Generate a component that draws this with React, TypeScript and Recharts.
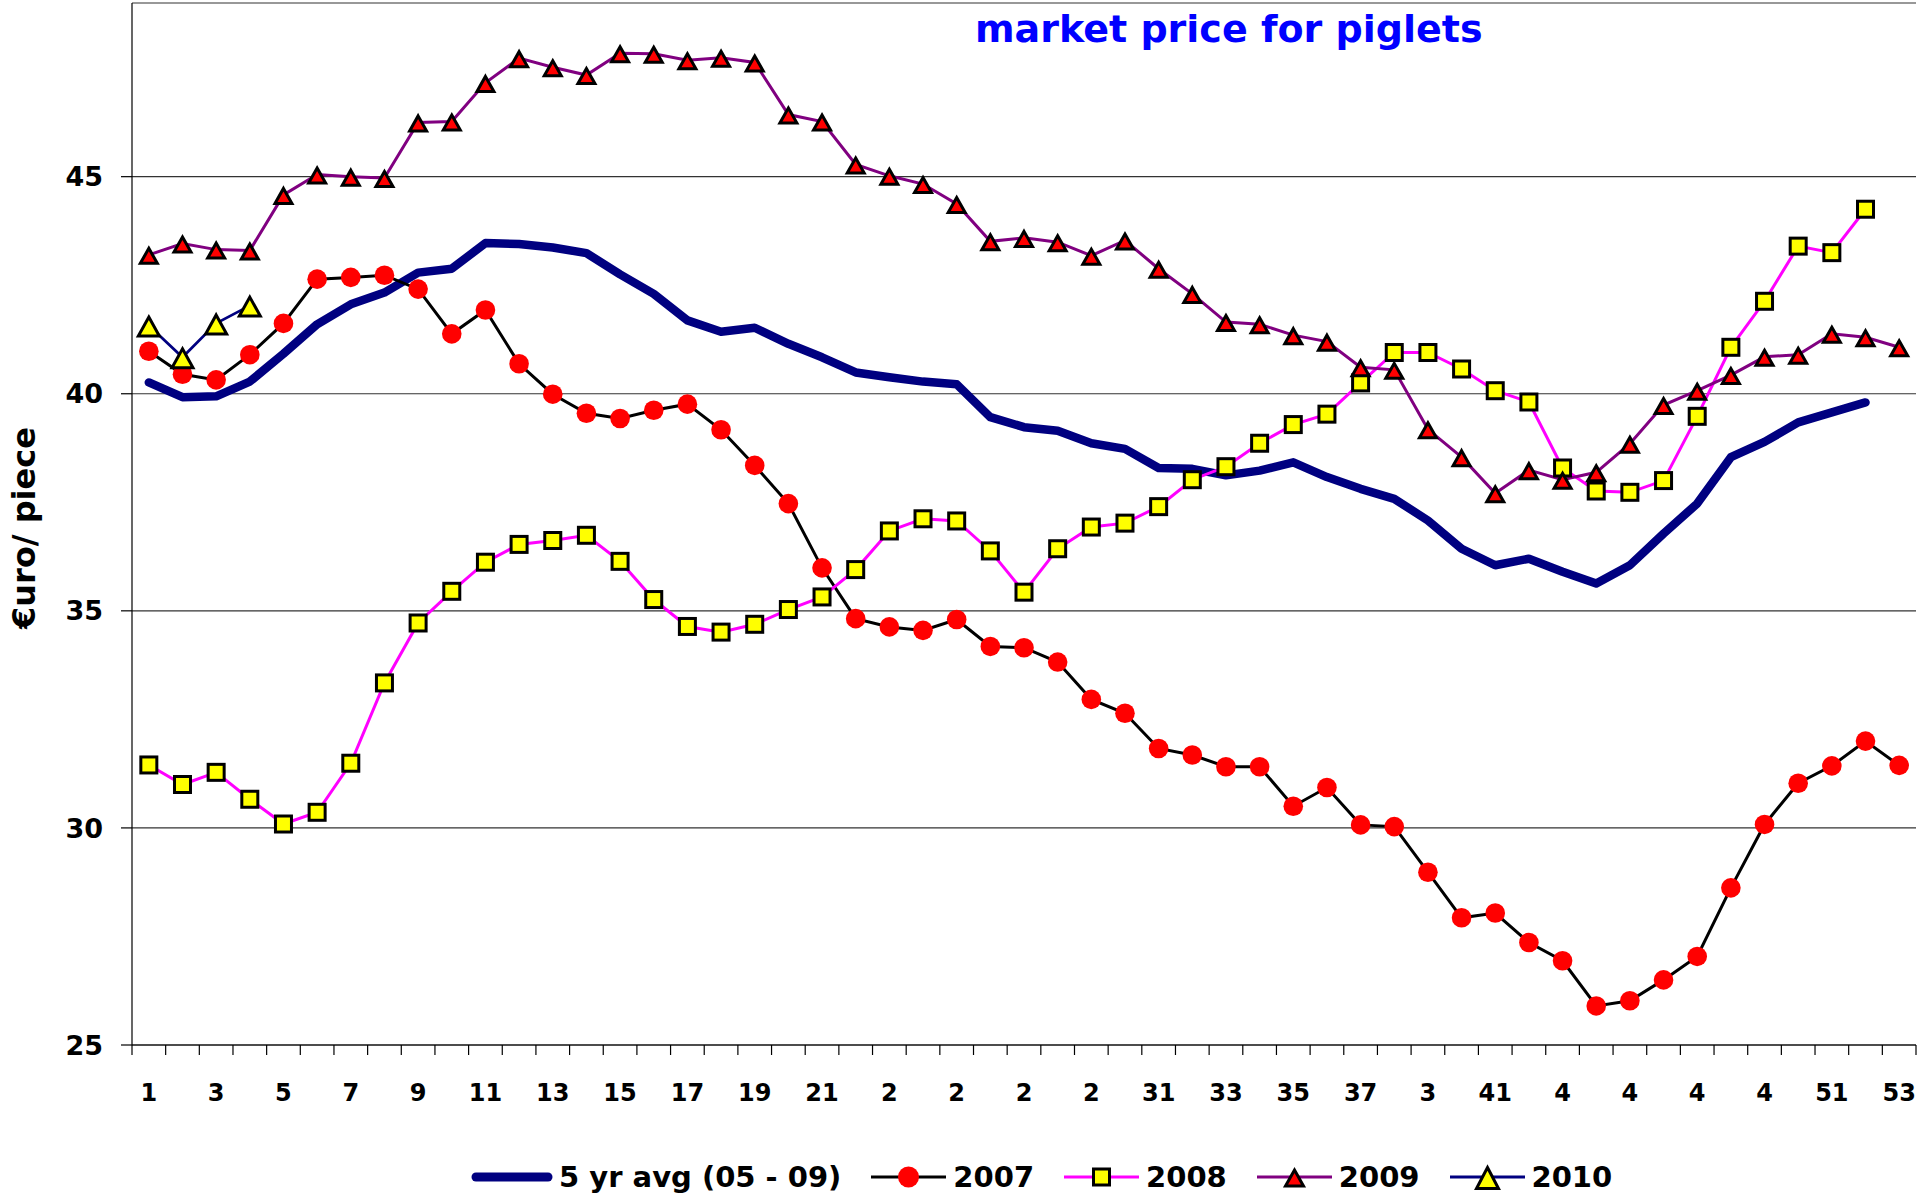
import { ComposedChart, Line, XAxis, YAxis, CartesianGrid, Legend } from 'recharts';

// calendar weeks on the category axis
const weeks = [
  1, 2, 3, 4, 5, 6, 7, 8, 9, 10, 11, 12, 13, 14, 15, 16, 17, 18, 19, 20, 21, 22, 23, 24, 25, 26,
  27, 28, 29, 30, 31, 32, 33, 34, 35, 36, 37, 38, 39, 40, 41, 42, 43, 44, 45, 46, 47, 48, 49, 50,
  51, 52, 53,
];

// text printed under every other week (some labels are cut short)
const weekLabels = [
  '1', '', '3', '', '5', '', '7', '', '9', '', '11', '', '13', '', '15', '', '17', '', '19', '',
  '21', '', '2', '', '2', '', '2', '', '2', '', '31', '', '33', '', '35', '', '37', '', '3', '',
  '41', '', '4', '', '4', '', '4', '', '4', '', '51', '', '53',
];

const avg0509 = [
  40.26, 39.92, 39.94, 40.28, 40.92, 41.6, 42.06, 42.33, 42.79, 42.88, 43.47, 43.45, 43.37, 43.24,
  42.75, 42.3, 41.69, 41.43, 41.52, 41.15, 40.84, 40.49, 40.38, 40.28, 40.22, 39.46, 39.23, 39.15,
  38.86, 38.73, 38.29, 38.27, 38.12, 38.23, 38.42, 38.08, 37.81, 37.58, 37.08, 36.43, 36.05, 36.2,
  35.9, 35.63, 36.05, 36.78, 37.47, 38.54, 38.89, 39.34, 39.57, 39.8,
];

const price2007 = [
  40.98, 40.45, 40.32, 40.9, 41.62, 42.64, 42.68, 42.73, 42.41, 41.38, 41.93, 40.69, 39.99, 39.55,
  39.43, 39.62, 39.76, 39.17, 38.35, 37.47, 35.99, 34.82, 34.63, 34.55, 34.8, 34.18, 34.15, 33.82,
  32.96, 32.64, 31.83, 31.68, 31.41, 31.41, 30.5, 30.93, 30.07, 30.03, 28.98, 27.93, 28.04, 27.36,
  26.94, 25.9, 26.02, 26.5, 27.04, 28.62, 30.08, 31.03, 31.43, 32.0, 31.44,
];

const price2008 = [
  31.45, 31.0, 31.28, 30.66, 30.09, 30.36, 31.49, 33.34, 34.72, 35.45, 36.12, 36.53, 36.62, 36.74,
  36.14, 35.26, 34.64, 34.51, 34.69, 35.03, 35.32, 35.95, 36.84, 37.12, 37.07, 36.38, 35.43, 36.43,
  36.93, 37.02, 37.4, 38.02, 38.32, 38.86, 39.29, 39.53, 40.25, 40.95, 40.95, 40.57, 40.07, 39.81,
  38.29, 37.76, 37.73, 38.0, 39.48, 41.07, 42.13, 43.4, 43.25, 44.25,
];

const price2009 = [
  43.2, 43.46, 43.32, 43.3, 44.58, 45.05, 45.0, 44.97, 46.25, 46.27, 47.16, 47.73, 47.52, 47.34,
  47.84, 47.83, 47.68, 47.74, 47.63, 46.43, 46.27, 45.28, 45.02, 44.83, 44.37, 43.51, 43.59, 43.49,
  43.18, 43.53, 42.88, 42.3, 41.65, 41.6, 41.35, 41.2, 40.61, 40.55, 39.18, 38.54, 37.71, 38.24,
  38.02, 38.19, 38.85, 39.74, 40.07, 40.43, 40.85, 40.9, 41.38, 41.3, 41.07,
];

const price2010 = [41.57, 40.84, 41.62, 42.03];

const yTicks = [25, 30, 35, 40, 45];

const FONT = '"DejaVu Sans", Verdana, sans-serif';
const CHART_W = 1919;
const CHART_H = 1195;
const PLOT_LEFT = 132;
const PLOT_RIGHT = 1916;
const BAND = (PLOT_RIGHT - PLOT_LEFT) / weeks.length;

const data = weeks.map((week, i) => ({
  week,
  avg: avg0509[i] ?? null,
  y2007: price2007[i] ?? null,
  y2008: price2008[i] ?? null,
  y2009: price2009[i] ?? null,
  y2010: price2010[i] ?? null,
}));

function triPoints(cx: number, cy: number, w: number, h: number) {
  return `${cx},${cy - h / 2} ${cx + w / 2},${cy + h / 2} ${cx - w / 2},${cy + h / 2}`;
}

const redDot = (p: any) => {
  if (p.cx == null || p.cy == null) return <g key={`a${p.index}`} />;
  return <circle key={`a${p.index}`} cx={p.cx} cy={p.cy} r={9.8} fill="#ff0000" />;
};

const yellowSquare = (p: any) => {
  if (p.cx == null || p.cy == null) return <g key={`b${p.index}`} />;
  return (
    <rect key={`b${p.index}`} x={p.cx - 8} y={p.cy - 8} width={16} height={16}
      fill="#ffff00" stroke="#000" strokeWidth={3} />
  );
};

const redTriangle = (p: any) => {
  if (p.cx == null || p.cy == null) return <g key={`c${p.index}`} />;
  return (
    <polygon key={`c${p.index}`} points={triPoints(p.cx, p.cy + 1, 17, 15)}
      fill="#ff0000" stroke="#000" strokeWidth={3} strokeLinejoin="miter" />
  );
};

const yellowTriangle = (p: any) => {
  if (p.cx == null || p.cy == null) return <g key={`d${p.index}`} />;
  return (
    <polygon key={`d${p.index}`} points={triPoints(p.cx, p.cy + 1, 21, 19)}
      fill="#ffff00" stroke="#000" strokeWidth={3} strokeLinejoin="miter" />
  );
};

function WeekTick(props: any) {
  const { x, y, payload } = props;
  const i = weeks.indexOf(payload.value);
  const left = x - BAND / 2;
  return (
    <g>
      <line x1={left} y1={y} x2={left} y2={y + 10} stroke="#000" strokeWidth={1.2} />
      {i === weeks.length - 1 && (
        <line x1={x + BAND / 2} y1={y} x2={x + BAND / 2} y2={y + 10} stroke="#000" strokeWidth={1.2} />
      )}
      {weekLabels[i] && (
        <text x={x} y={y + 56} textAnchor="middle" fill="#000" fontFamily={FONT}
          fontWeight="bold" fontSize={24}>
          {weekLabels[i]}
        </text>
      )}
    </g>
  );
}

const legendItems = [
  { name: '5 yr avg (05 - 09)', color: '#000080', width: 9, marker: 'none', len: 80 },
  { name: '2007', color: '#000000', width: 3, marker: 'circle', len: 75 },
  { name: '2008', color: '#ff00ff', width: 3, marker: 'square', len: 75 },
  { name: '2009', color: '#800080', width: 3, marker: 'tri', len: 75 },
  { name: '2010', color: '#000080', width: 3, marker: 'tri2010', len: 75 },
];

function LegendRow() {
  return (
    <div style={{ display: 'flex', alignItems: 'center', gap: 30, fontFamily: FONT, fontWeight: 'bold', fontSize: 29, color: '#000', whiteSpace: 'nowrap' }}>
      {legendItems.map((it) => {
        const mid = it.len / 2;
        return (
          <div key={it.name} style={{ display: 'flex', alignItems: 'center' }}>
            <svg width={it.len} height={30} style={{ overflow: 'visible' }}>
              <line x1={it.width > 4 ? 4 : 0} y1={15} x2={it.width > 4 ? it.len - 4 : it.len} y2={15}
                stroke={it.color} strokeWidth={it.width} strokeLinecap={it.width > 4 ? 'round' : 'butt'} />
              {it.marker === 'circle' && <circle cx={mid} cy={15} r={10.5} fill="#ff0000" />}
              {it.marker === 'square' && (
                <rect x={mid - 8} y={7} width={16} height={16} fill="#ffff00" stroke="#000" strokeWidth={3} />
              )}
              {it.marker === 'tri' && (
                <polygon points={triPoints(mid, 16, 18, 16)} fill="#ff0000" stroke="#000" strokeWidth={3} />
              )}
              {it.marker === 'tri2010' && (
                <polygon points={triPoints(mid, 16, 22, 21)} fill="#ffff00" stroke="#000" strokeWidth={3} />
              )}
            </svg>
            <span style={{ marginLeft: 7, lineHeight: '30px' }}>{it.name}</span>
          </div>
        );
      })}
    </div>
  );
}

export default function App() {
  return (
    <div style={{ position: 'absolute', left: 0, top: 0, width: CHART_W, height: CHART_H, background: '#fff' }}>
      <div style={{ position: 'absolute', left: 975, top: 10, fontFamily: FONT, fontWeight: 'bold', fontSize: 38, lineHeight: '38px', color: '#0000ff', whiteSpace: 'nowrap' }}>
        market price for piglets
      </div>
      <ComposedChart width={CHART_W} height={CHART_H} data={data}
        margin={{ top: 3, right: CHART_W - PLOT_RIGHT, bottom: 50, left: 0 }}>
        <CartesianGrid horizontal vertical={false} stroke="#333" strokeWidth={1.2} />
        <XAxis dataKey="week" scale="band" interval={0} height={100} tickSize={0} tickMargin={0}
          tickLine={false} axisLine={{ stroke: '#000', strokeWidth: 1.2 }} tick={<WeekTick />} />
        <YAxis type="number" domain={[25, 49]} ticks={yTicks} width={PLOT_LEFT} tickSize={11} tickMargin={18}
          axisLine={{ stroke: '#000', strokeWidth: 1.2 }} tickLine={{ stroke: '#000', strokeWidth: 1.2 }}
          tick={{ fill: '#000', fontSize: 27, fontWeight: 'bold', fontFamily: FONT }}
          label={(p: any) => (
            <text x={24} y={528} transform="rotate(-90 24 528)" textAnchor="middle" dominantBaseline="central"
              fontFamily={FONT} fontWeight="bold" fontSize={32} fill="#000">
              €uro/ piece
            </text>
          )} />
        <Legend layout="vertical" align="center" verticalAlign="middle"
          wrapperStyle={{ left: 472, top: 1162, width: 1300, height: 30 }} content={() => <LegendRow />} />
        <Line dataKey="avg" name="5 yr avg (05 - 09)" stroke="#000080" strokeWidth={8.5} strokeLinecap="round"
          strokeLinejoin="round" dot={false} activeDot={false} isAnimationActive={false} />
        <Line dataKey="y2007" name="2007" stroke="#000" strokeWidth={3} dot={redDot} activeDot={false}
          isAnimationActive={false} />
        <Line dataKey="y2008" name="2008" stroke="#ff00ff" strokeWidth={3} dot={yellowSquare} activeDot={false}
          isAnimationActive={false} />
        <Line dataKey="y2009" name="2009" stroke="#800080" strokeWidth={3} dot={redTriangle} activeDot={false}
          isAnimationActive={false} />
        <Line dataKey="y2010" name="2010" stroke="#000080" strokeWidth={2.7} dot={yellowTriangle} activeDot={false}
          isAnimationActive={false} />
      </ComposedChart>
    </div>
  );
}
